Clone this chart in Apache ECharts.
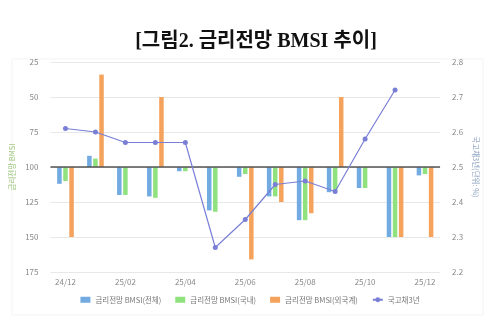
<!DOCTYPE html>
<html>
<head>
<meta charset="utf-8">
<script src="https://cdn.jsdelivr.net/npm/echarts@6/dist/echarts.min.js"></script>
<style>
html,body{margin:0;padding:0;background:#fff;}
#title{position:absolute;left:0;top:24px;width:512px;text-align:center;font-family:"Liberation Serif","DejaVu Serif","Noto Sans CJK KR",serif;font-weight:bold;font-size:20px;color:#111;}
#chart{position:absolute;left:0;top:0;width:500px;height:328px;}
</style>
</head>
<body>
<div id="chart"></div>
<div id="title">[그림2. 금리전망 BMSI 추이]</div>
<script>
var categories = ['24/12','25/01','25/02','25/03','25/04','25/05','25/06','25/07','25/08','25/09','25/10','25/11','25/12'];
var bmsiTotal    = [112, 92, 120, 121, 103, 131, 107, 121, 138, 118, 115, 150, 106];
var bmsiDomestic = [110, 94, 120, 122, 103, 132, 105, 121, 138, 117, 115, 150, 105];
var bmsiForeign  = [150, 34, 100, 50, 100, 100, 166, 125, 133, 50, 100, 150, 150];
var ktb3y        = [2.61, 2.60, 2.57, 2.57, 2.57, 2.27, 2.35, 2.45, 2.46, 2.43, 2.58, 2.72, null];
var leftTicks = [25, 50, 75, 100, 125, 150, 175];
var rightTicks = [2.2, 2.3, 2.4, 2.5, 2.6, 2.7, 2.8];
var BASE = 100;

var font = '"Noto Sans CJK KR", "Noto Sans", sans-serif';
function delta(arr){ return arr.map(function(v){ return v == null ? null : v - BASE; }); }

var chart = echarts.init(document.getElementById('chart'), null, {renderer:'canvas'});
var barCommon = { type:'bar', barWidth:4.5, barGap:'35%', yAxisIndex:0 };
chart.setOption({
  animation:false,
  textStyle:{fontFamily:font},
  graphic:[{type:'rect', shape:{x:12, y:59, width:471, height:256}, style:{fill:'none', stroke:'#f3f3f3', lineWidth:1}, z:-1}],
  grid:{left:50, right:60, top:62, height:210},
  legend:{
    top:291, left:'center', itemWidth:10, itemHeight:6, itemGap:14,
    textStyle:{fontSize:7.5, color:'#777', fontFamily:font},
    data:[
      {name:'금리전망 BMSI(전체)', icon:'rect'},
      {name:'금리전망 BMSI(국내)', icon:'rect'},
      {name:'금리전망 BMSI(외국계)', icon:'rect'},
      {name:'국고채3년'}
    ]
  },
  xAxis:{
    type:'category', data:categories, boundaryGap:true,
    axisLine:{lineStyle:{color:'#ddd'}},
    axisTick:{length:4, lineStyle:{color:'#ddd'}, interval:function(i){ return i % 2 === 1; }},
    axisLabel:{interval:1, fontSize:8, color:'#888', margin:6, fontFamily:font}
  },
  yAxis:[
    {
      type:'value', inverse:true, min:leftTicks[0]-BASE, max:leftTicks[leftTicks.length-1]-BASE, interval:25,
      name:'금리전망 BMSI', nameLocation:'middle', nameGap:35, nameRotate:90, nameMoveOverlap:false,
      nameTextStyle:{color:'#9cc57a', fontSize:7.5, fontFamily:font},
      axisLabel:{fontSize:8, color:'#888', margin:12, formatter:function(v){ return String(v + BASE); }},
      axisLine:{show:false}, axisTick:{show:false},
      splitLine:{lineStyle:{color:'#e8e8e8', width:1}}
    },
    {
      type:'value', min:rightTicks[0], max:rightTicks[rightTicks.length-1], interval:0.1, position:'right',
      name:'국고채3년(단위: %)', nameLocation:'middle', nameGap:32, nameRotate:-90, nameMoveOverlap:false,
      nameTextStyle:{color:'#8ca2c0', fontSize:7.5, fontFamily:font},
      axisLabel:{fontSize:8, color:'#888', margin:12, formatter:function(v){ return v.toFixed(1); }},
      axisLine:{show:false}, axisTick:{show:false}, splitLine:{show:false}
    }
  ],
  series:[
    Object.assign({}, barCommon, {name:'금리전망 BMSI(전체)', data:delta(bmsiTotal), itemStyle:{color:'#72aae2'},
      markLine:{silent:true, symbol:'none', label:{show:false}, lineStyle:{color:'#555', width:1.5, type:'solid'}, data:[{yAxis:0}]}}),
    Object.assign({}, barCommon, {name:'금리전망 BMSI(국내)', data:delta(bmsiDomestic), itemStyle:{color:'#8fe27e'}}),
    Object.assign({}, barCommon, {name:'금리전망 BMSI(외국계)', data:delta(bmsiForeign), itemStyle:{color:'#f4a25c'}}),
    {name:'국고채3년', type:'line', yAxisIndex:1, data:ktb3y, symbol:'circle', symbolSize:5, z:5,
      lineStyle:{color:'#7a7fd6', width:1.2}, itemStyle:{color:'#7a7fd6'}}
  ]
});
</script>
</body>
</html>
